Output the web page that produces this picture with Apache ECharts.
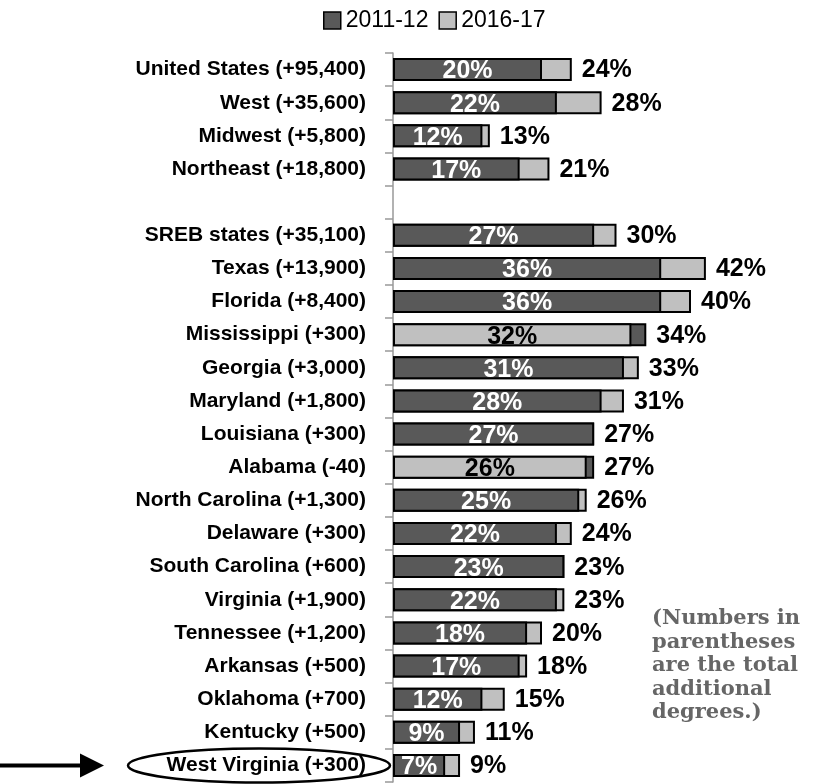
<!DOCTYPE html>
<html>
<head>
<meta charset="utf-8">
<script src="https://cdn.jsdelivr.net/npm/echarts@6/dist/echarts.min.js"></script>
<style>
html,body{margin:0;padding:0;background:#fff;}
#chart{width:815px;height:784px;}
</style>
</head>
<body>
<div id="chart"></div>
<script>
const categories = ['United States (+95,400)', 'West (+35,600)', 'Midwest (+5,800)', 'Northeast (+18,800)', '',
  'SREB states (+35,100)', 'Texas (+13,900)', 'Florida (+8,400)', 'Mississippi (+300)', 'Georgia (+3,000)',
  'Maryland (+1,800)', 'Louisiana (+300)', 'Alabama (-40)', 'North Carolina (+1,300)', 'Delaware (+300)',
  'South Carolina (+600)', 'Virginia (+1,900)', 'Tennessee (+1,200)', 'Arkansas (+500)', 'Oklahoma (+700)',
  'Kentucky (+500)', 'West Virginia (+300)'];
const v2011 = [20, 22, 12, 17, null, 27, 36, 36, 34, 31, 28, 27, 27, 25, 22, 23, 22, 18, 17, 12, 9, 7];
const v2016 = [24, 28, 13, 21, null, 30, 42, 40, 32, 33, 31, 27, 26, 26, 24, 23, 23, 20, 18, 15, 11, 9];
const seriesNames = ['2011-12', '2016-17'];
const noteLines = ['(Numbers in', 'parentheses', 'are the total', 'additional', 'degrees.)'];

const DARK = '#595959', LIGHT = '#c0c0c0';
const FONT = 'Liberation Sans, Arial, sans-serif';

const outLabel = {show: true, position: 'right', distance: 10, offset: [0, 1], color: '#000', fontSize: 25, fontWeight: 'bold', fontFamily: FONT};
const inLabelWhite = {show: true, position: 'inside', offset: [0, 2], color: '#fff', fontSize: 25, fontWeight: 'bold', fontFamily: FONT};
const inLabelBlack = {show: true, position: 'inside', offset: [0, 2], color: '#000', fontSize: 25, fontWeight: 'bold', fontFamily: FONT};
const fmt = p => p.value + '%';

const backLight = [], dark = [], frontLight = [];
for (let i = 0; i < categories.length; i++) {
  const a = v2011[i], b = v2016[i];
  if (a == null || b == null) { backLight.push('-'); dark.push('-'); frontLight.push('-'); continue; }
  if (b >= a) {
    backLight.push({value: b, label: outLabel});
    dark.push({value: a, label: inLabelWhite});
    frontLight.push('-');
  } else {
    backLight.push('-');
    dark.push({value: a, label: outLabel});
    frontLight.push({value: b, label: inLabelBlack});
  }
}

const barCommon = {type: 'bar', barWidth: 23, barGap: '-100%', animation: false};

const chart = echarts.init(document.getElementById('chart'), null, {renderer: 'canvas'});
chart.setOption({
  animation: false,
  backgroundColor: '#fff',
  legend: {
    data: seriesNames, top: 4, left: 318, icon: 'rect', itemWidth: 17, itemHeight: 17, itemGap: 10,
    textStyle: {fontSize: 23, color: '#000', fontFamily: FONT, padding: [0, 0, 0, 0]},
    itemStyle: {borderColor: '#000', borderWidth: 1.5}
  },
  grid: {left: 393, top: 53, width: 372.5, height: 729, containLabel: false},
  xAxis: {type: 'value', min: 0, max: 50, show: false},
  yAxis: {
    type: 'category', data: categories, inverse: true,
    axisLine: {show: true, lineStyle: {color: '#999999', width: 1.5}},
    axisTick: {show: true, length: 8, interval: 0, lineStyle: {color: '#999999', width: 1.5}},
    axisLabel: {interval: 0, margin: 27, color: '#000', fontSize: 21, fontWeight: 'bold', fontFamily: FONT},
    splitLine: {show: false}
  },
  series: [
    Object.assign({}, barCommon, {name: '2016-17', data: backLight, itemStyle: {color: LIGHT, borderColor: '#000', borderWidth: 2}, label: {formatter: fmt}}),
    Object.assign({}, barCommon, {name: '2011-12', data: dark, itemStyle: {color: DARK, borderColor: '#000', borderWidth: 2}, label: {formatter: fmt}}),
    Object.assign({}, barCommon, {name: '2016-17', data: frontLight, itemStyle: {color: LIGHT, borderColor: '#000', borderWidth: 2}, label: {formatter: fmt}})
  ]
});

// annotations: arrow + ellipse around the last category, and the note
const wvY = chart.convertToPixel({yAxisIndex: 0}, categories[categories.length - 1]);
const noteTop = 607;
chart.setOption({
  graphic: [
    {type: 'line', shape: {x1: 0, y1: wvY, x2: 84, y2: wvY}, style: {stroke: '#000', lineWidth: 4}, z: 100},
    {type: 'polygon', shape: {points: [[80, wvY - 12], [104, wvY], [80, wvY + 12]]}, style: {fill: '#000'}, z: 100},
    {type: 'ellipse', shape: {cx: 259, cy: wvY, rx: 131, ry: 17}, style: {fill: 'none', stroke: '#000', lineWidth: 2.5}, z: 100},
    {type: 'text', left: 652, top: noteTop, style: {text: noteLines.join('\n'), fill: '#666', font: 'bold 21px "DejaVu Serif", serif', lineHeight: 23.5}, z: 100}
  ]
});
</script>
</body>
</html>
